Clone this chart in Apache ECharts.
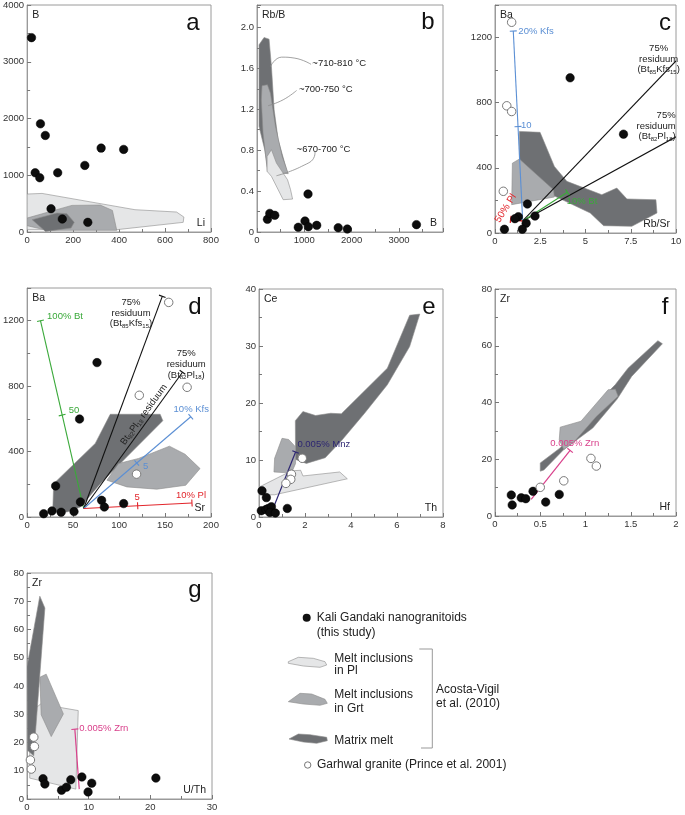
<!DOCTYPE html>
<html><head><meta charset="utf-8">
<script src="https://cdn.jsdelivr.net/npm/echarts@6/dist/echarts.min.js"></script>
<style>html,body{margin:0;padding:0;background:#fff}#c{width:685px;height:815px}</style>
</head><body><div id="c"></div>
<script>
const FONT = '"Liberation Sans", Arial, Helvetica, sans-serif';
// ---------- DATA ----------
// a: Li vs B
const aKali = [[19,3425],[58,1906],[79,1701],[35,1044],[55,956],[133,1044],[251,1173],[322,1478],[420,1455],[104,410],[153,229],[264,170]];
const aPl = [[0,669],[65,680],[469,393],[650,352],[682,264],[679,170],[390,41],[0,41]];
const aGrt = [[0,246],[195,469],[318,475],[371,381],[390,29],[87,29],[0,111]];
const aMx = [[22,217],[130,334],[173,323],[205,170],[191,70],[80,10]];
// b: B vs Rb/B
const bKali = [[220,0.124],[270,0.182],[376,0.163],[1078,0.371],[872,0.046],[1014,0.107],[1085,0.052],[1262,0.065],[1716,0.042],[1908,0.029],[3369,0.072]];
const bMx = [[43,1.831],[149,1.902],[255,1.886],[305,1.619],[362,1.195],[447,0.902],[645,0.577],[234,0.593],[163,0.805],[43,1.033]];
const bGrt = [[106,1.43],[220,1.44],[284,1.358],[390,1.033],[532,0.739],[660,0.57],[220,0.593],[128,0.967],[92,1.293]];
const bPl = [[213,0.739],[305,0.805],[411,0.674],[645,0.511],[709,0.414],[752,0.322],[553,0.316],[305,0.544],[213,0.593]];
const bLead1 = [[284,1.619],[518,1.71],[801,1.70],[1142,1.64]];
const bLead2 = [[234,1.235],[553,1.293],[837,1.384]];
const bLead3 = [[411,0.55],[943,0.642],[1213,0.739],[1227,0.788]];
// c: Rb/Sr vs Ba
const cKali = [[4.15,953],[7.1,607],[1.79,178],[2.21,104],[1.29,100],[1.1,88],[1.72,60],[1.51,23],[0.52,23]];
const cGar = [[0.92,1294],[0.65,781],[0.92,746],[0.46,256]];
const cMx = [[1.35,624],[2.49,618],[3.28,409],[3.97,317],[5.9,235],[6.73,276],[7.29,209],[8.89,204],[8.95,123],[7.56,41],[6.0,45],[5.26,123],[3.32,225],[1.35,307]];
const cGrt = [[0.96,429],[1.35,454],[2.31,358],[3.23,266],[3.28,221],[0.92,174]];
const cStart = [1.53,74];
// d: Sr vs Ba
const dKali = [[76,944],[57,599],[31,190],[18,20],[27,37],[37,29],[51,33],[58,92],[81,102],[84,61],[105,82]];
const dGar = [[154,1312],[122,744],[174,793],[119,262]];
const dMx = [[27.8,31],[28.9,204],[74.1,450],[90.4,628],[144.7,628],[147.6,589],[108.5,368],[79.6,204],[57.9,61],[43.4,31]];
const dGrt = [[86.8,225],[99.5,327],[121.2,358],[154.8,433],[171.8,384],[188.1,296],[172.5,194],[141,170],[108.5,184]];
const dStart = [61.5,52];
// e: Th vs Ce
const eKali = [[0.13,4.6],[0.32,3.4],[0.1,1.1],[0.3,1.3],[0.4,1.5],[0.54,1.8],[0.47,0.8],[0.71,0.7],[1.23,1.5]];
const eGar = [[1.88,10.3],[1.41,7.5],[1.38,6.6],[1.17,5.9]];
const eMx = [[1.58,16.9],[1.91,18.5],[2.46,17.8],[3.12,18.2],[3.58,18.1],[5.58,26.1],[6.55,35.4],[6.99,35.6],[6.55,29.9],[5.58,23.2],[4.59,18.2],[3.61,13.5],[2.88,10.4],[2.06,9.4],[1.59,10.1]];
const eGrt = [[1.0,13.8],[1.29,13.6],[1.59,12.3],[1.59,9.4],[1.41,7.7],[0.65,7.9],[0.68,10.3]];
const ePl = [[0.03,5.3],[1.41,8.1],[1.81,8.2],[1.91,7.2],[3.51,7.9],[3.84,6.7],[0.68,3.9],[0.03,3.9]];
// f: Hf vs Zr
const fKali = [[0.18,7.4],[0.19,3.9],[0.29,6.4],[0.34,6.1],[0.42,8.7],[0.56,4.9],[0.71,7.6]];
const fGar = [[0.5,10.1],[0.76,12.4],[1.06,20.3],[1.12,17.6]];
const fMx = [[0.5,18.7],[0.72,24.0],[0.97,33.0],[1.15,40.4],[1.33,46.3],[1.47,52.1],[1.8,61.8],[1.85,60.7],[1.51,49.2],[1.35,41.2],[1.08,31.0],[0.76,23.4],[0.54,16.2],[0.5,15.8]];
const fGrt = [[0.72,31.3],[0.95,33.4],[1.25,44.5],[1.33,44.7],[1.36,42.2],[1.12,35.1],[0.88,26.3],[0.76,23.4],[0.71,26.9]];
// g: U/Th vs Zr
const gKali = [[2.6,7.2],[2.9,5.3],[5.6,3.1],[6.4,4.2],[7.1,6.8],[8.9,7.8],[9.9,2.5],[10.5,5.6],[20.9,7.4]];
const gGar = [[1.1,21.9],[1.2,18.6],[0.55,13.8],[0.7,10.6]];
const gMx = [[2.08,71.8],[2.9,67.6],[1.09,15.3],[0.11,17.2],[0,46.8]];
const gGrt = [[2.08,43.1],[3.11,44.2],[5.9,30.1],[3.93,22.1],[2.3,29.8]];
const gPl = [[0.44,30.4],[2.19,33.6],[8.31,31.3],[7.92,3.5],[0.44,7.4]];
// axis ranges [min,max,interval] and tick labels
const xRanges = [[0,800,200],[0,3930,1000],[0,10,2.5],[0,200,50],[0,8,2],[0,2,0.5],[0,30,10]];
const yRanges = [[0,4000,1000],[0,2.22,0.4],[0,1400,400],[0,1400,400],[0,40,10],[0,80,20],[0,80,10]];
const xNames = ['Li','B','Rb/Sr','Sr','Th','Hf','U/Th'];
const yNames = ['B','Rb/B','Ba','Ba','Ce','Zr','Zr'];
const panelLetters = ['a','b','c','d','e','f','g'];

// ---------- STYLE ----------
const C_PL = '#e5e6e7', C_GRT = '#a9abae', C_MX = '#6e7073';
const C_BLUE = '#5b8fd4', C_RED = '#e2262c', C_GREEN = '#3aa93a', C_NAVY = '#2d2672', C_MAG = '#d9408b';
const grids = [
  {left:27, top:5, width:184, height:227},
  {left:257, top:5, width:186, height:227},
  {left:495, top:5, width:181, height:228},
  {left:27, top:288, width:184, height:229},
  {left:259, top:289, width:184, height:228},
  {left:495, top:289, width:181, height:227},
  {left:27, top:573, width:185, height:226}
].map(g => Object.assign({show:true, borderColor:'#9a9a9a', borderWidth:1, containLabel:false}, g));

const RICH = { s: {fontSize:6, verticalAlign:'bottom', fontFamily:FONT} };

function axisCommon(){
  return {
    type:'value', splitLine:{show:false},
    axisLine:{show:true, onZero:false, lineStyle:{color:'#9a9a9a', width:1}},
    axisTick:{show:true, inside:true, length:4, lineStyle:{color:'#777'}},
    minorTick:{show:true, splitNumber:2, length:3, lineStyle:{color:'#777'}},
    axisLabel:{fontSize:9.5, color:'#333', fontFamily:FONT, margin:3, formatter: v => String(v)}
  };
}
const xAxes = xRanges.map((r,i) => {
  const a = axisCommon();
  Object.assign(a, {gridIndex:i, min:r[0], max:r[1], interval:r[2], name:xNames[i], nameLocation:'end', nameGap:-6,
    nameTextStyle:{align:'right', verticalAlign:'bottom', fontSize:10.5, color:'#222', fontFamily:FONT, padding:[0,0,3,0]}});
  if (i===1) a.axisLabel.showMaxLabel = false;
  return a;
});
const yAxes = yRanges.map((r,i) => {
  const a = axisCommon();
  Object.assign(a, {gridIndex:i, min:r[0], max:r[1], interval:r[2], name:yNames[i], nameLocation:'end', nameGap:-5,
    nameTextStyle:{align:'left', verticalAlign:'top', fontSize:10.5, color:'#222', fontFamily:FONT, padding:[0,0,0,5]}});
  if (i===1) { a.axisLabel.showMaxLabel = false; a.axisLabel.formatter = v => v===0 ? '0' : v.toFixed(1); }
  if (i===2 || i===3) a.axisLabel.showMaxLabel = false;
  return a;
});

// ---------- SERIES BUILDERS ----------
function poly(gi, pts, fill){
  return {type:'custom', xAxisIndex:gi, yAxisIndex:gi, silent:true, z:1, clip:true, data:pts,
    renderItem(params, api){
      if (params.dataIndex !== 0) return null;
      return {type:'polygon', shape:{points: pts.map(p => api.coord(p))},
        style:{fill:fill, stroke:'#8c8c8c', lineWidth:0.6}};
    }};
}
function vec(gi, start, end, color, mids, cap, width){
  mids = mids || []; width = width || 1.1;
  return {type:'custom', xAxisIndex:gi, yAxisIndex:gi, silent:true, z:3, clip:true, data:[start, end],
    renderItem(params, api){
      if (params.dataIndex !== 0) return null;
      const a = api.coord(start), b = api.coord(end);
      const dx = b[0]-a[0], dy = b[1]-a[1], L = Math.hypot(dx,dy);
      const ux = dx/L, uy = dy/L, nx = -uy, ny = ux, h = 3.5;
      const ch = [{type:'line', shape:{x1:a[0],y1:a[1],x2:b[0],y2:b[1]}, style:{stroke:color, lineWidth:width}}];
      const tickAt = p => ({type:'line', shape:{x1:p[0]+nx*h, y1:p[1]+ny*h, x2:p[0]-nx*h, y2:p[1]-ny*h}, style:{stroke:color, lineWidth:width}});
      if (cap) ch.push(tickAt(b));
      mids.forEach(m => {
        const q = api.coord(m);
        const t = ((q[0]-a[0])*ux + (q[1]-a[1])*uy);
        ch.push(tickAt([a[0]+ux*t, a[1]+uy*t]));
      });
      return {type:'group', children:ch};
    }};
}
function texts(gi, items){
  return {type:'custom', xAxisIndex:gi, yAxisIndex:gi, silent:true, z:5, clip:false, data:items.map(it => it.p),
    renderItem(params, api){
      const it = items[params.dataIndex];
      const c = api.coord(it.p);
      return {type:'text', x:c[0], y:c[1], rotation:(it.rot||0)*Math.PI/180,
        style:{text:it.t, fill:it.c||'#222', fontSize:it.fs||9.5, fontFamily:FONT,
          align:it.al||'left', verticalAlign:it.va||'middle', lineHeight:it.lh||10.7, rich:RICH}};
    }};
}
function kali(gi, pts){
  return {type:'scatter', xAxisIndex:gi, yAxisIndex:gi, data:pts, symbolSize:8.5, z:6, silent:true,
    itemStyle:{color:'#0d0d0d', opacity:1, borderColor:'#000', borderWidth:0.5}};
}
function gar(gi, pts){
  return {type:'scatter', xAxisIndex:gi, yAxisIndex:gi, data:pts, symbolSize:8.5, z:6, silent:true,
    itemStyle:{color:'#fff', opacity:1, borderColor:'#7a7a7a', borderWidth:1}};
}
function lead(gi, pts){
  return {type:'line', xAxisIndex:gi, yAxisIndex:gi, data:pts, smooth:0.5, symbol:'none', silent:true, z:4,
    lineStyle:{color:'#8a8a8a', width:0.8}};
}

const series = [
  // a
  poly(0,aPl,C_PL), poly(0,aGrt,C_GRT), poly(0,aMx,C_MX), kali(0,aKali),
  // b
  poly(1,bMx,C_MX), poly(1,bGrt,C_GRT), poly(1,bPl,C_PL),
  lead(1,bLead1), lead(1,bLead2), lead(1,bLead3),
  texts(1,[{p:[1170,1.651],t:'~710-810 °C'},{p:[887,1.391],t:'~700-750 °C'},{p:[837,0.805],t:'~670-700 °C'}]),
  kali(1,bKali),
  // c
  poly(2,cMx,C_MX), poly(2,cGrt,C_GRT),
  vec(2,cStart,[10,1057],'#111',[],false,1.1),
  vec(2,cStart,[10,591],'#111',[],false,1.1),
  vec(2,cStart,[1.01,1240],C_BLUE,[[1.16,653]],true),
  vec(2,cStart,[0.87,84],C_RED,[],true,1.4),
  vec(2,cStart,[4.0,250],C_GREEN,[],true,1.2),
  texts(2,[
    {p:[1.29,1240],t:'20% Kfs',c:C_BLUE},
    {p:[1.44,661],t:'10',c:C_BLUE},
    {p:[0.59,152],t:'50% Pl',c:C_RED,al:'center',rot:58,fs:10},
    {p:[3.96,195],t:'10% Bt',c:C_GREEN},
    {p:[9.04,1166],t:'75%\nresiduum\n(Bt{s|85}Kfs{s|15})',al:'center',va:'top'},
    {p:[9.98,755],t:'75%\nresiduum\n(Bt{s|82}Pl{s|18})',al:'right',va:'top'}
  ]),
  kali(2,cKali), gar(2,cGar),
  // d
  poly(3,dMx,C_MX), poly(3,dGrt,C_GRT),
  vec(3,dStart,[14.5,1200],C_GREEN,[[38,623]],true),
  vec(3,dStart,[147,1349],'#111',[],true),
  vec(3,dStart,[169,885],'#111',[],true),
  vec(3,dStart,[178,613],C_BLUE,[[119.6,328]],true),
  vec(3,dStart,[179.3,86],C_RED,[[120.2,72]],true),
  texts(3,[
    {p:[21.7,1228],t:'100% Bt',c:C_GREEN},
    {p:[45.2,649],t:'50',c:C_GREEN},
    {p:[113,1345],t:'75%\nresiduum\n(Bt{s|85}Kfs{s|15})',al:'center',va:'top'},
    {p:[173,1030],t:'75%\nresiduum\n(Bt{s|82}Pl{s|18})',al:'center',va:'top'},
    {p:[127,626],t:'Bt{s|82}Pl{s|18} residuum',al:'center',rot:54},
    {p:[159.3,659],t:'10% Kfs',c:C_BLUE},
    {p:[126,307],t:'5',c:C_BLUE},
    {p:[119.6,123],t:'5',c:C_RED,al:'center'},
    {p:[178.2,133],t:'10% Pl',c:C_RED,al:'center'}
  ]),
  kali(3,dKali), gar(3,dGar),
  // e
  poly(4,eMx,C_MX), poly(4,eGrt,C_GRT), poly(4,ePl,C_PL),
  vec(4,[0.54,0.76],[1.59,11.4],C_NAVY,[],true,1.2),
  texts(4,[{p:[1.67,12.7],t:'0.005% Mnz',c:C_NAVY}]),
  kali(4,eKali), gar(4,eGar),
  // f
  poly(5,fMx,C_MX), poly(5,fGrt,C_GRT),
  vec(5,[0.40,5.9],[0.83,23.1],C_MAG,[],true,1.2),
  texts(5,[{p:[0.61,25.6],t:'0.005% Zrn',c:C_MAG}]),
  kali(5,fKali), gar(5,fGar),
  // g
  poly(6,gPl,C_PL), poly(6,gMx,C_MX), poly(6,gGrt,C_GRT),
  vec(6,[8.47,3.5],[7.76,24.7],C_MAG,[],true,1.2),
  texts(6,[{p:[8.48,25.1],t:'0.005% Zrn',c:C_MAG}]),
  kali(6,gKali), gar(6,gGar)
];

// ---------- GRAPHICS: panel letters + legend ----------
const letterPos = [[193,23],[428,22],[665,23],[195,307],[429,307],[665,307],[195,590]];
const graphic = [];
panelLetters.forEach((l,i) => graphic.push({type:'text', x:letterPos[i][0], y:letterPos[i][1],
  style:{text:l, fontSize:24, fontFamily:FONT, fill:'#111', align:'center', verticalAlign:'middle'}}));
const LT = {fontSize:12, fontFamily:FONT, fill:'#222', align:'left', verticalAlign:'middle'};
function lt(x,y,t){ graphic.push({type:'text', x:x, y:y, style:Object.assign({text:t}, LT)}); }
graphic.push({type:'circle', shape:{cx:306.7, cy:617.7, r:4}, style:{fill:'#111'}});
lt(316.7,617.7,'Kali Gandaki nanogranitoids'); lt(316.7,632.7,'(this study)');
graphic.push({type:'polygon', shape:{points:[[288.3,661.7],[298.3,657.3],[313.3,658.3],[325,661.7],[326.7,665],[320,667.3],[303.3,666],[288.3,663.3]]}, style:{fill:C_PL, stroke:'#8c8c8c', lineWidth:0.6}});
lt(334.3,658.3,'Melt inclusions'); lt(334.3,671,'in Pl');
graphic.push({type:'polygon', shape:{points:[[288.3,701.7],[300,693.3],[311.7,694],[325,699.3],[327.3,703.3],[320,705.3],[303.3,704]]}, style:{fill:C_GRT, stroke:'#8c8c8c', lineWidth:0.6}});
lt(334.3,695,'Melt inclusions'); lt(334.3,709,'in Grt');
graphic.push({type:'polygon', shape:{points:[[289,739],[298.3,734],[310,734.7],[326.7,737.3],[327.3,740.7],[316.7,743.3],[303.3,742]]}, style:{fill:C_MX, stroke:'#8c8c8c', lineWidth:0.6}});
lt(334.3,740.7,'Matrix melt');
graphic.push({type:'polyline', shape:{points:[[419.3,649],[432.3,649],[432.3,748],[421,748]]}, style:{stroke:'#999', lineWidth:1, fill:null}});
lt(436,690,'Acosta-Vigil'); lt(436,703.3,'et al. (2010)');
graphic.push({type:'circle', shape:{cx:307.7, cy:765, r:3.2}, style:{fill:'#fff', stroke:'#777', lineWidth:1}});
lt(317,765,'Garhwal granite (Prince et al. 2001)');

const chart = echarts.init(document.getElementById('c'), null, {renderer:'canvas'});
chart.setOption({animation:false, backgroundColor:'#fff', grid:grids, xAxis:xAxes, yAxis:yAxes, series:series, graphic:graphic});
</script></body></html>
